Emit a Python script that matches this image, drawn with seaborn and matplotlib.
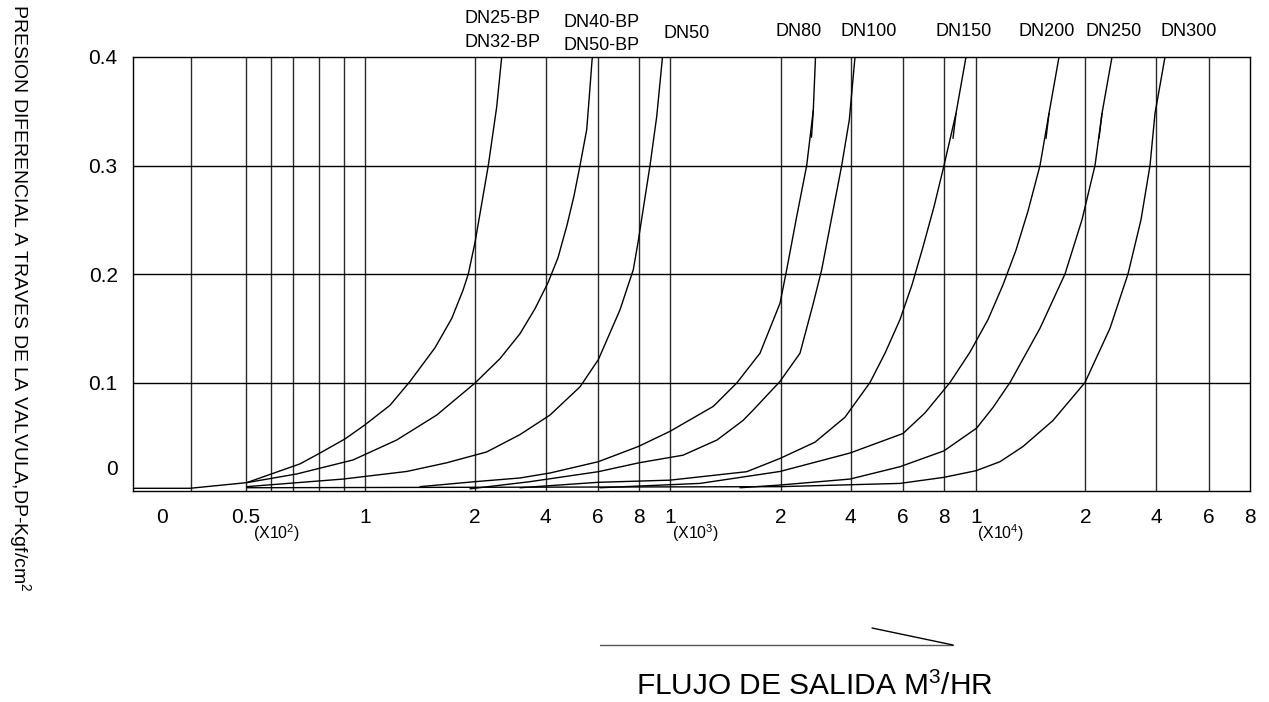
import numpy as np
import pandas as pd
import seaborn as sns
import matplotlib.pyplot as plt
from matplotlib.lines import Line2D

# x values are positions along the printed (hand drawn) flow scale, 0 = left border
grid_pos = [57.7, 113, 138, 160, 186.3, 211.3, 232.3, 342, 412.7, 464.7, 506, 537,
            647.7, 717.7, 770.3, 811.3, 843, 952.3, 1023, 1075.7]
tick_pos = [29, 113, 232.3, 342, 412.7, 464.7, 506, 537, 647.7, 717.7, 770.3, 811.3,
            843, 952.3, 1023, 1075.7, 1117]
tick_lab = ["0", "0.5", "1", "2", "4", "6", "8", "1", "2", "4", "6", "8",
            "1", "2", "4", "6", "8"]
x_max = 1117

mult_pos = [120, 539, 844]
mult_lab = ["(X10$^2$)", "(X10$^3$)", "(X10$^4$)"]

y_ticks = [0.022, 0.1, 0.2, 0.3, 0.4]
y_labels = ["0", "0.1", "0.2", "0.3", "0.4"]

# curves: flow scale position / differential pressure
dn25_x = [0, 57, 113.7, 167, 187, 212, 232, 257, 277, 302, 318.7, 330, 335.3, 342, 355.3, 363.7, 368.7]
dn25_y = [0.0025, 0.0025, 0.0077, 0.025, 0.035, 0.048, 0.061, 0.079, 0.101, 0.132, 0.159, 0.185,
          0.200, 0.229, 0.300, 0.354, 0.4]
dn40_x = [113.7, 163.7, 220, 263.7, 303.7, 342, 367, 387, 402, 415, 425, 434, 441, 447, 453.7, 456, 459.3]
dn40_y = [0.0077, 0.0157, 0.0286, 0.047, 0.070, 0.0995, 0.122, 0.145, 0.168, 0.192, 0.215, 0.245,
          0.272, 0.300, 0.333, 0.36, 0.4]
dn50_x = [113.7, 210, 273.7, 313.7, 353.7, 387, 417, 447, 465.3, 487, 500.3, 505, 517, 523.7, 529.5]
dn50_y = [0.004, 0.011, 0.018, 0.026, 0.036, 0.052, 0.070, 0.096, 0.121, 0.167, 0.204, 0.229,
          0.300, 0.345, 0.4]
dn80_x = [287, 342, 387, 417, 465.3, 505.3, 537, 580.3, 603.7, 627, 647, 653.7, 663.7, 673.7, 680.3, 682.5]
dn80_y = [0.004, 0.0086, 0.012, 0.0166, 0.027, 0.041, 0.055, 0.078, 0.0995, 0.127, 0.173, 0.204,
          0.253, 0.300, 0.351, 0.4]
dn100_x = [337, 397, 465.3, 506, 550, 584, 610, 620.3, 647, 667, 680.3, 688.7, 708.7, 716.3, 722]
dn100_y = [0.002, 0.0086, 0.0178, 0.026, 0.033, 0.047, 0.065, 0.0747, 0.101, 0.127, 0.173, 0.204,
           0.300, 0.342, 0.4]
dn150_x = [387, 465, 537, 613.7, 647, 682, 712, 737, 752, 767, 779, 790, 801, 811, 823, 833]
dn150_y = [0.003, 0.008, 0.010, 0.0178, 0.030, 0.045, 0.068, 0.1, 0.127, 0.158, 0.19, 0.225,
           0.262, 0.3, 0.348, 0.4]
dn200_x = [467, 567, 647, 717, 770, 792, 817, 837, 855, 870, 883, 895, 907, 916, 926]
dn200_y = [0.003, 0.007, 0.018, 0.035, 0.053, 0.072, 0.1, 0.128, 0.158, 0.19, 0.222, 0.258,
           0.3, 0.348, 0.4]
dn250_x = [607, 647, 717, 767, 811, 843.7, 860, 877, 907, 932, 949, 962, 969, 979]
dn250_y = [0.003, 0.0055, 0.011, 0.0224, 0.037, 0.058, 0.077, 0.1, 0.15, 0.2, 0.25, 0.3, 0.348, 0.4]
dn300_x = [113.7, 647, 767, 811, 843, 867, 890, 920, 952, 977, 995, 1008, 1017, 1022, 1032]
dn300_y = [0.003, 0.004, 0.007, 0.0126, 0.0187, 0.027, 0.041, 0.065, 0.1, 0.15, 0.2, 0.25,
           0.3, 0.348, 0.4]

curves = {
    "DN25-BP": (dn25_x, dn25_y), "DN40-BP": (dn40_x, dn40_y), "DN50": (dn50_x, dn50_y),
    "DN80": (dn80_x, dn80_y), "DN100": (dn100_x, dn100_y), "DN150": (dn150_x, dn150_y),
    "DN200": (dn200_x, dn200_y), "DN250": (dn250_x, dn250_y), "DN300": (dn300_x, dn300_y),
}

# short overlapping pieces near 0.35
stub_x0 = [680.3, 823, 916, 969]
stub_x1 = [678.5, 820, 913, 966]
stub_y0 = [0.351, 0.348, 0.348, 0.348]
stub_y1 = [0.326, 0.325, 0.325, 0.325]

# curve labels above the chart
lab_text = ["DN25-BP\nDN32-BP", "DN40-BP\nDN50-BP", "DN50", "DN80", "DN100",
            "DN150", "DN200", "DN250", "DN300"]
lab_pos = [369, 469, 554, 666, 736, 831, 914, 981, 1056]
lab_y = [0.4244, 0.4212, 0.422, 0.4235, 0.4235, 0.4235, 0.4235, 0.4235, 0.4235]

rows = []
for name, (xs, ys) in curves.items():
    for x, y in zip(xs, ys):
        rows.append({"valve": name, "pos": x, "dp": y})
for i in range(len(stub_x0)):
    rows.append({"valve": f"stub{i}", "pos": stub_x0[i], "dp": stub_y0[i]})
    rows.append({"valve": f"stub{i}", "pos": stub_x1[i], "dp": stub_y1[i]})
df = pd.DataFrame(rows)

sns.set_theme(style="white")
plt.rcParams["font.family"] = ["Liberation Sans", "DejaVu Sans"]
plt.rcParams["axes.edgecolor"] = "black"
plt.rcParams["text.color"] = "black"
plt.rcParams["mathtext.fontset"] = "custom"
plt.rcParams["mathtext.rm"] = "Liberation Sans"
plt.rcParams["mathtext.it"] = "Liberation Sans"

fig = plt.figure(figsize=(12.69, 7.02), dpi=100)
ax = fig.add_axes([133 / 1269, 1 - 491 / 702, 1117 / 1269, 434 / 702])

ax.vlines(grid_pos, 0, 0.4, color="#2a2a2a", lw=1.0, zorder=1)
ax.hlines([0.1, 0.2, 0.3], 0, x_max, color="black", lw=1.0, zorder=1)

sns.lineplot(data=df, x="pos", y="dp", units="valve", estimator=None, sort=False,
             color="black", lw=1.0, ax=ax, legend=False, zorder=3)

ax.set_xlim(0, x_max)
ax.set_ylim(0, 0.4)
ax.set_xticks(tick_pos, tick_lab)
ax.set_yticks(y_ticks, y_labels)
ax.tick_params(axis="x", length=0, pad=12, labelsize=15, colors="black")
ax.tick_params(axis="y", length=0, pad=11, labelsize=15, colors="black")
ax.set_xlabel("")
ax.set_ylabel("")
for s in ax.spines.values():
    s.set_color("black")
    s.set_linewidth(1.0)

for t, x, y in zip(lab_text, lab_pos, lab_y):
    ax.text(x, y, t, ha="center", va="center", fontsize=13, linespacing=1.5, clip_on=False)

for t, x in zip(mult_lab, mult_pos):
    ax.text(x, -0.097, t, transform=ax.get_xaxis_transform(), ha="left", va="center",
            fontsize=11.5, clip_on=False)

fig.text(20 / 1269, 1 - 298 / 702, "PRESION DIFERENCIAL A TRAVES DE LA VALVULA,DP-Kgf/cm$^2$",
         rotation=270, ha="center", va="center", fontsize=14)

fig.add_artist(Line2D([600 / 1269, 953 / 1269], [1 - 645 / 702, 1 - 645 / 702], color="#555555", lw=1.0))
fig.add_artist(Line2D([872 / 1269, 953 / 1269], [1 - 628 / 702, 1 - 645 / 702], color="black", lw=1.0))
fig.text(814 / 1269, 1 - 686 / 702, "FLUJO DE SALIDA M$^3$/HR", ha="center", va="center", fontsize=21.5)

fig.savefig("out.png", dpi=100)
